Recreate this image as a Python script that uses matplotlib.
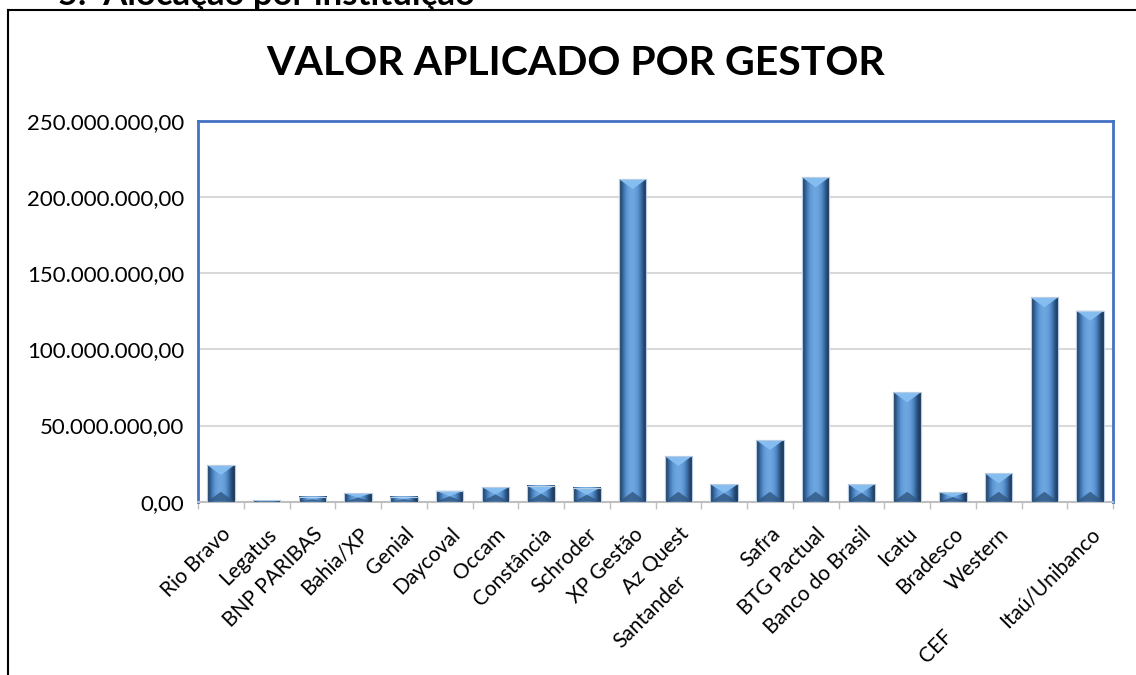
import matplotlib
matplotlib.use('Agg')
import numpy as np
import matplotlib.pyplot as plt
import matplotlib.transforms as mtransforms
from matplotlib.patches import Polygon
from matplotlib.lines import Line2D
from matplotlib.ticker import FuncFormatter, MultipleLocator

gestores = ["Rio Bravo", "Legatus", "BNP PARIBAS", "Bahia/XP", "Genial",
            "Daycoval", "Occam", "Constância", "Schroder", "XP Gestão",
            "Az Quest", "Santander", "Safra", "BTG Pactual", "Banco do Brasil",
            "Icatu", "Bradesco", "Western", "CEF", "Itaú/Unibanco"]
# valores em milhões de reais
valores = [24.1, 1.1, 3.3, 5.5, 3.3, 7.2, 9.6, 10.5, 9.2, 211.7,
           30.0, 11.4, 40.5, 212.9, 11.6, 71.8, 6.2, 18.6, 134.1, 125.3]

# Excel pushed a couple of labels down the diagonal (points)
label_shift = {"Santander": 49, "CEF": 104}

plt.rcParams['font.family'] = ['Lato', 'DejaVu Sans']

fig = plt.figure(figsize=(11.36, 6.75), dpi=100)
ax = fig.add_axes([0.1743, 0.2567, 0.8055, 0.5645])

n = len(gestores)
x = np.arange(n)
bar_w = 0.6
vals = np.array(valores) * 1e6

ax.bar(x, vals, width=bar_w, color='#4A7EBB', edgecolor='#C6D6EA',
       linewidth=0.8, zorder=3)

# bevel look: horizontal gradient + light top / dark bottom facets
grad = np.array([[0.05, 0.35, 0.7, 0.95, 1.0, 0.85, 0.55, 0.2, 0.0]])
cmap = matplotlib.colors.LinearSegmentedColormap.from_list(
    'bev', ['#1E3A5C', '#3C6FA6', '#5A93D2', '#6FA8E0'])
px_per_unit_y = (0.5645 * 675) / 250e6
bev = 10 / px_per_unit_y
for xi, v in zip(x, vals):
    x0, x1 = xi - bar_w / 2, xi + bar_w / 2
    ax.imshow(grad, cmap=cmap, aspect='auto', extent=(x0, x1, 0, v),
              zorder=4, interpolation='bicubic')
    b = min(bev, v / 2)
    ax.add_patch(Polygon([(x0, v), (x1, v), (xi, v - b)], closed=True,
                         facecolor='#86BDF0', edgecolor='none', zorder=5))
    ax.add_patch(Polygon([(x0, 0), (x1, 0), (xi, b)], closed=True,
                         facecolor='#2F5782', edgecolor='none', alpha=0.8,
                         zorder=5))
    ax.add_patch(Polygon([(x0, 0), (x0, v), (x1, v), (x1, 0)], closed=True,
                         facecolor='none', edgecolor='#B8CCE4', lw=0.8,
                         zorder=6))

ax.set_xlim(-0.5, n - 0.5)
ax.set_ylim(0, 250e6)
ax.yaxis.set_major_locator(MultipleLocator(50e6))
ax.yaxis.set_major_formatter(FuncFormatter(
    lambda v, p: "{:,.2f}".format(v).replace(',', 'X').replace('.', ',').replace('X', '.')))
ax.tick_params(axis='y', length=0, pad=10, labelsize=16)
ax.yaxis.grid(color='#D9D9D9', linewidth=1.5, zorder=0)
ax.set_axisbelow(True)

ax.set_xticks(x)
ax.set_xticklabels(gestores, rotation=45, ha='right', rotation_mode='anchor',
                   fontsize=15)
ax.tick_params(axis='x', length=0, pad=16)
ax.set_xticks(np.arange(-0.5, n), minor=True)
ax.tick_params(axis='x', which='minor', length=5, color='#BFBFBF', width=1)

for lab in ax.get_xticklabels():
    s = label_shift.get(lab.get_text())
    if s:
        off = mtransforms.ScaledTranslation(-s / 72 * 0.707, -s / 72 * 0.707,
                                            fig.dpi_scale_trans)
        lab.set_transform(lab.get_transform() + off)

for side in ['top', 'left', 'right']:
    ax.spines[side].set_color('#4472C4')
    ax.spines[side].set_linewidth(2)
ax.spines['bottom'].set_color('#BFBFBF')
ax.spines['bottom'].set_linewidth(1.5)

fig.text(0.507, 0.906, "VALOR APLICADO POR GESTOR", ha='center', va='center',
         fontsize=29.5, fontweight='bold')

# frame of the document box and the cut heading above it
fig.add_artist(Line2D([8 / 1136, 8 / 1136], [0, 1 - 10 / 675],
                      color='black', lw=1.5))
fig.add_artist(Line2D([8 / 1136, 1], [1 - 10 / 675, 1 - 10 / 675],
                      color='black', lw=1.5))
fig.text(58 / 1136, 1 - 5 / 675, "5.  Alocação por instituição", ha='left',
         va='baseline', fontsize=25, fontweight='bold')

fig.savefig('out.png', dpi=100)
